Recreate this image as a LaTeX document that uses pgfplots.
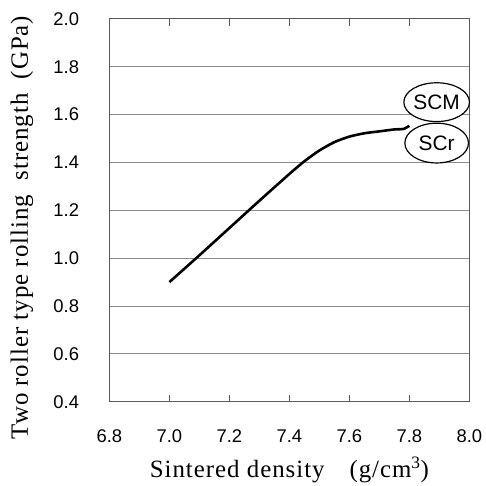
\documentclass[border=0pt]{standalone}
\usepackage{fontspec}
\setmainfont{Liberation Serif}
\setsansfont{Liberation Sans}
\newfontfamily\labfont[LetterSpace=4]{Liberation Serif}
\usepackage{pgfplots}
\pgfplotsset{compat=1.18}
\usetikzlibrary{shapes.geometric}
\definecolor{gridc}{HTML}{8C8C8C}
\definecolor{axisc}{HTML}{5A5A5A}

\begin{document}
\begin{tikzpicture}
\begin{axis}[
    scale only axis,
    width=362pt, height=385pt,
    xmin=6.8, xmax=8.0,
    ymin=0.4, ymax=2.0,
    xtick={6.8,7.0,...,8.0},
    ytick={0.4,0.6,...,2.0},
    /pgf/number format/.cd, fixed, fixed zerofill, precision=1, assume math mode=true,
    /pgfplots/.cd,
    tick label style={font=\sffamily\fontsize{18.5}{20}\selectfont},
    xticklabel style={yshift=-25pt},
    yticklabel style={xshift=-27pt},
    axis line style={axisc, line width=1pt},
    tick align=inside,
    major tick length=7pt,
    xtick style={axisc, line width=0.8pt},
    ytick style={draw=none},
    ymajorgrids,
    major grid style={gridc, line width=0.9pt},
    xlabel={Sintered density\quad(g/cm\textsuperscript{3})},
    ylabel={Two roller type rolling\ \ strength\ \ (GPa)},
    label style={font=\labfont\fontsize{25}{27}\selectfont},
    xlabel style={at={(axis description cs:0.5,-0.1974)}, anchor=base},
    ylabel style={at={(axis description cs:-0.2265,0.455)}, anchor=base},
    clip=false,
]
\addplot[black, line width=2.6pt, smooth, tension=0.4] coordinates {
    (7.00,0.900) (7.10,1.012) (7.20,1.126) (7.30,1.240) (7.40,1.352)
    (7.45,1.405) (7.50,1.450) (7.55,1.485) (7.60,1.508) (7.65,1.522)
    (7.70,1.530) (7.75,1.538) (7.78,1.540) (7.80,1.553)
};
\node[draw, ellipse, line width=1.2pt, fill=white, inner sep=0pt,
      minimum width=64pt, minimum height=39pt,
      font=\sffamily\fontsize{21}{22}\selectfont] at (axis cs:7.891,1.652) {SCM};
\node[draw, ellipse, line width=1.2pt, fill=white, inner sep=0pt,
      minimum width=64pt, minimum height=40pt,
      font=\sffamily\fontsize{21}{22}\selectfont] at (axis cs:7.891,1.481) {SCr};
\end{axis}
\path[use as bounding box] (current axis.south west) ++(-110pt,-82pt) rectangle ++(484pt,486pt);
\end{tikzpicture}
\end{document}
